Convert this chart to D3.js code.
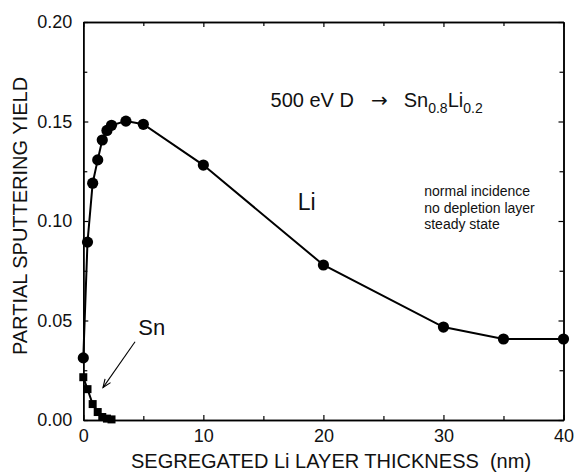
<!DOCTYPE html>
<html>
<head>
<meta charset="utf-8">
<script src="https://cdn.jsdelivr.net/npm/d3@7/dist/d3.min.js"></script>
<style>
  html, body { margin: 0; padding: 0; background: #fff; }
  svg { display: block; font-family: Arial, "Liberation Sans", Helvetica, sans-serif; }
</style>
</head>
<body>
<svg id="chart" width="574" height="472"></svg>
<script>
// ---- data ----
const liThickness = [0, 0.35, 0.78, 1.2, 1.58, 1.97, 2.35, 3.55, 5, 10, 20, 30, 35, 40];
const liYield     = [0.0312, 0.0894, 0.119, 0.1307, 0.1407, 0.1455, 0.1481, 0.1502, 0.1486, 0.1281, 0.0779, 0.0467, 0.0407, 0.0407];
const snThickness = [0, 0.35, 0.78, 1.2, 1.58, 1.97, 2.35];
const snYield     = [0.0215, 0.0155, 0.0080, 0.0040, 0.0015, 0.0007, 0.0003];
const xMajorTicks = [0, 10, 20, 30, 40];
const xMinorTicks = [5, 15, 25, 35];
const yMajorTicks = [0, 0.05, 0.10, 0.15, 0.20];
const yMinorTicks = [0.025, 0.075, 0.125, 0.175];
const xTitle = "SEGREGATED Li LAYER THICKNESS\u00A0\u00A0(nm)";
const yTitle = "PARTIAL SPUTTERING YIELD";

// ---- layout ----
const W = 574, H = 472;
const m = { left: 83.3, right: 10.5, top: 22, bottom: 52 };
const svg = d3.select("#chart");
const x = d3.scaleLinear().domain([0, 40]).range([m.left, W - m.right]);
const y = d3.scaleLinear().domain([0, 0.2]).range([H - m.bottom, m.top]);

const fmtY = d3.format(".2f");
const major = 5, minor = 4;

// bottom axis
const gB = svg.append("g").attr("transform", `translate(0,${y(0)})`);
gB.call(d3.axisBottom(x).tickValues(xMajorTicks).tickSizeInner(-major).tickSizeOuter(0).tickPadding(9).tickFormat(d3.format("d")));
gB.append("g").call(d3.axisBottom(x).tickValues(xMinorTicks).tickSizeInner(-minor).tickSizeOuter(0).tickFormat(""));
// top axis
const gT = svg.append("g").attr("transform", `translate(0,${y(0.2)})`);
gT.call(d3.axisTop(x).tickValues(xMajorTicks).tickSizeInner(-major).tickSizeOuter(0).tickFormat(""));
gT.append("g").call(d3.axisTop(x).tickValues(xMinorTicks).tickSizeInner(-minor).tickSizeOuter(0).tickFormat(""));
// left axis
const gL = svg.append("g").attr("transform", `translate(${x(0)},0)`);
gL.call(d3.axisLeft(y).tickValues(yMajorTicks).tickSizeInner(-major).tickSizeOuter(0).tickPadding(11).tickFormat(fmtY));
gL.append("g").call(d3.axisLeft(y).tickValues(yMinorTicks).tickSizeInner(-minor).tickSizeOuter(0).tickFormat(""));
// right axis
const gR = svg.append("g").attr("transform", `translate(${x(40)},0)`);
gR.call(d3.axisRight(y).tickValues(yMajorTicks).tickSizeInner(-major).tickSizeOuter(0).tickFormat(""));
gR.append("g").call(d3.axisRight(y).tickValues(yMinorTicks).tickSizeInner(-minor).tickSizeOuter(0).tickFormat(""));

svg.selectAll(".domain").attr("stroke", "#000").attr("stroke-width", 1.5);
svg.selectAll(".tick line").attr("stroke", "#000").attr("stroke-width", 1.2);
svg.selectAll(".tick text").attr("fill", "#111").style("font-size", "18px").style("font-family", "Arial, 'Liberation Sans', sans-serif");

// axis titles
svg.append("text")
  .attr("x", 331).attr("y", 468)
  .attr("text-anchor", "middle").style("font-size", "20px").attr("fill", "#111")
  .text(xTitle);
svg.append("text")
  .attr("transform", `translate(27,216) rotate(-90)`)
  .attr("text-anchor", "middle").style("font-size", "20px").attr("fill", "#111")
  .text(yTitle);

// ---- data marks ----
const li = liThickness.map((t, i) => [t, liYield[i]]);
const sn = snThickness.map((t, i) => [t, snYield[i]]);
const line = d3.line().x(d => x(d[0])).y(d => y(d[1]));

svg.append("path").datum(li).attr("d", line).attr("fill", "none").attr("stroke", "#000").attr("stroke-width", 2);
svg.append("path").datum(sn).attr("d", line).attr("fill", "none").attr("stroke", "#000").attr("stroke-width", 2);

svg.append("g").selectAll("circle").data(li).join("circle")
  .attr("cx", d => x(d[0])).attr("cy", d => y(d[1])).attr("r", 5.6).attr("fill", "#000");
const s = 8;
svg.append("g").selectAll("rect").data(sn).join("rect")
  .attr("x", d => x(d[0]) - s / 2).attr("y", d => y(d[1]) - s / 2)
  .attr("width", s).attr("height", s).attr("fill", "#000");

// ---- annotations ----
const ann = svg.append("text").attr("x", x(15.6)).attr("y", y(0.1573))
  .style("font-size", "20px").attr("fill", "#111");
ann.append("tspan").text("500 eV D");
ann.append("tspan").attr("dx", 17).style("font-family", "'DejaVu Sans', sans-serif").style("font-size", "20px").text("\u2192");
ann.append("tspan").attr("dx", 16).text("Sn");
ann.append("tspan").attr("dy", 6).style("font-size", "14px").text("0.8");
ann.append("tspan").attr("dy", -6).text("Li");
ann.append("tspan").attr("dy", 6).style("font-size", "14px").text("0.2");

svg.append("text").attr("x", x(18.6)).attr("y", y(0.1095) + 8).attr("text-anchor", "middle")
  .style("font-size", "23px").attr("fill", "#111").text("Li");
svg.append("text").attr("x", x(5.7)).attr("y", y(0.0467) + 8).attr("text-anchor", "middle")
  .style("font-size", "22px").attr("fill", "#111").text("Sn");

const notes = ["normal incidence", "no depletion layer", "steady state"];
svg.append("g").selectAll("text").data(notes).join("text")
  .attr("x", x(28.4)).attr("y", (d, i) => y(0.1125) + i * 16.5)
  .style("font-size", "14px").attr("fill", "#111").text(d => d);

// arrow pointing to Sn curve
const a0 = [4.31, 0.0393], a1 = [1.64, 0.0163];
const X0 = x(a0[0]), Y0 = y(a0[1]), X1 = x(a1[0]), Y1 = y(a1[1]);
svg.append("line").attr("x1", X0).attr("y1", Y0).attr("x2", X1).attr("y2", Y1)
  .attr("stroke", "#000").attr("stroke-width", 1.1);
const ang = Math.atan2(Y1 - Y0, X1 - X0), L = 9, spread = 0.38;
svg.append("path")
  .attr("d", `M${X1 - L * Math.cos(ang - spread)},${Y1 - L * Math.sin(ang - spread)} L${X1},${Y1} L${X1 - L * Math.cos(ang + spread)},${Y1 - L * Math.sin(ang + spread)}`)
  .attr("fill", "none").attr("stroke", "#000").attr("stroke-width", 1.1);
</script>
</body>
</html>
